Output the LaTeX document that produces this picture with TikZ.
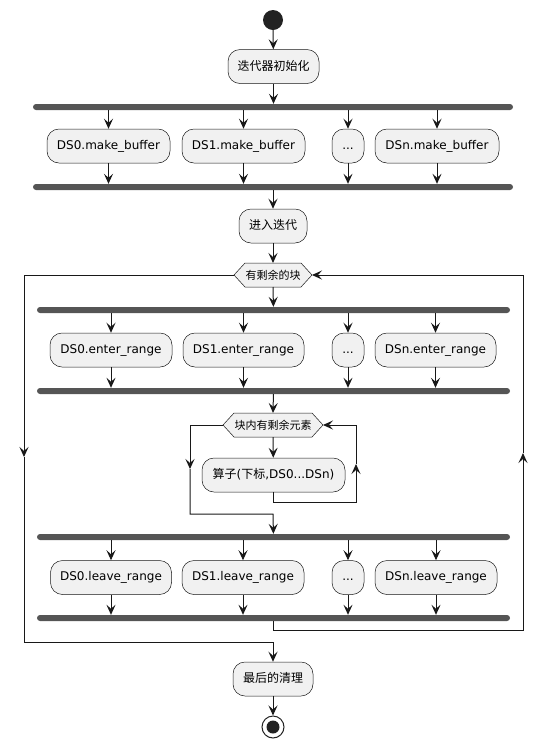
\documentclass[tikz,border=0pt]{standalone}
\usepackage{fontspec}
\setmainfont{DejaVu Sans}
\newfontfamily\cjk{Noto Sans CJK SC}
\usetikzlibrary{arrows.meta}
\definecolor{boxfill}{HTML}{F1F1F1}
\definecolor{edgec}{HTML}{181818}
\definecolor{barc}{HTML}{555555}
\definecolor{dotc}{HTML}{222222}
\tikzset{
  act/.style={draw=edgec, line width=0.5pt, fill=boxfill, rounded corners=12pt,
    minimum height=34pt, inner xsep=4pt, inner ysep=0pt,
    font=\fontsize{12}{14}\selectfont, text=black,
    execute at begin node={\vphantom{Dg}}},
  hexline/.style={draw=edgec, line width=0.5pt, fill=boxfill},
  hextext/.style={inner sep=0pt, font=\fontsize{11}{13}\selectfont, text=black},
  forkbar/.style={fill=barc, draw=none, rounded corners=3pt, minimum height=6pt,
    inner sep=0pt, minimum width=#1},
  conn/.style={draw=edgec, line width=1pt},
  arr/.style={conn, -{Stealth[length=10pt,width=9pt,inset=4pt]}},
}
\begin{document}
\begin{tikzpicture}[x=1pt,y=-1pt]
\path[use as bounding box] (0,0) rectangle (548,748);

% start
\node[circle, fill=dotc, minimum size=20pt, inner sep=0pt] (start) at (273,20) {};
\node[act, minimum width=91pt] (init) at (273.5,66.5) {\cjk 迭代器初始化};

% fork 1
\node[forkbar=480pt] (b1) at (273,107) {};
\node[act, minimum width=123pt] (m0) at (108.5,146) {DS0.make\_buffer};
\node[act, minimum width=123pt] (m1) at (243.5,146) {DS1.make\_buffer};
\node[act, minimum width=32pt]  (m2) at (348,146) {...};
\node[act, minimum width=124pt] (m3) at (437,146) {DSn.make\_buffer};
\node[forkbar=480pt] (b2) at (273,187) {};

\node[act, minimum width=68pt] (enter) at (273,226) {\cjk 进入迭代};

% outer hexagon
\path[hexline] (234,275) coordinate (ohw) -- (245,263) -- (301,263) -- (312,275) coordinate (ohe)
  -- (301,287) -- (245,287) -- cycle;
\coordinate (ohn) at (273,263);
\coordinate (ohs) at (273,287);
\node[hextext] (oh) at (273,275) {\cjk 有剩余的块};

% fork 3
\node[forkbar=473pt] (b3) at (273.5,310) {};
\node[act, minimum width=122pt] (e0) at (111,350) {DS0.enter\_range};
\node[act, minimum width=121pt] (e1) at (243.5,350) {DS1.enter\_range};
\node[act, minimum width=32pt]  (e2) at (348,350) {...};
\node[act, minimum width=121pt] (e3) at (435.5,350) {DSn.enter\_range};
\node[forkbar=473pt] (b4) at (273.5,391) {};

% inner hexagon
\path[hexline] (223,425) coordinate (ihw) -- (234,413) -- (312,413) -- (323,425) coordinate (ihe)
  -- (312,437) -- (234,437) -- cycle;
\coordinate (ihn) at (273,413);
\coordinate (ihs) at (273,437);
\node[hextext] (ih) at (273,425) {\cjk 块内有剩余元素};

\node[act, minimum width=143pt] (op) at (273.5,475) {{\cjk 算子}({\cjk 下标},DS0...DSn)};

% fork 5
\node[forkbar=473pt] (b5) at (273.5,537) {};
\node[act, minimum width=121pt] (l0) at (111,577.5) {DS0.leave\_range};
\node[act, minimum width=122pt] (l1) at (243,577.5) {DS1.leave\_range};
\node[act, minimum width=32pt]  (l2) at (348,577.5) {...};
\node[act, minimum width=122pt] (l3) at (436,577.5) {DSn.leave\_range};
\node[forkbar=473pt] (b6) at (273.5,618) {};

\node[act, minimum width=80pt] (final) at (273,679) {\cjk 最后的清理};

% end
\node[circle, draw=dotc, line width=1pt, fill=white, minimum size=22pt, inner sep=0pt] (end) at (273,727) {};
\fill[dotc] (end.center) circle (6.5pt);

% coordinates for loops
\coordinate (ilr1) at (356,502);
\coordinate (ilrm) at (356,464);
\coordinate (illm) at (190,469);
\coordinate (ilb)  at (273,514);
\coordinate (orb)  at (523,630);
\coordinate (orm)  at (523,453);
\coordinate (olm)  at (24,457);
\coordinate (olb)  at (273,642);

% connectors
\draw[arr] (start) -- (init);
\draw[arr] (init) -- (init |- b1.north);
\foreach \n in {m0,m1,m2,m3}{
  \draw[arr] (\n |- b1.south) -- (\n);
  \draw[arr] (\n) -- (\n |- b2.north);
}
\draw[arr] (b2) -- (enter);
\draw[arr] (enter) -- (ohn);
\draw[arr] (ohs) -- (b3);
\foreach \n in {e0,e1,e2,e3}{
  \draw[arr] (\n |- b3.south) -- (\n);
  \draw[arr] (\n) -- (\n |- b4.north);
}
\draw[arr] (b4) -- (ihn);
\draw[arr] (ihs) -- (op);
% inner loop back
\draw[arr] (op.south) |- (ilr1) -- (ilrm);
\draw[arr] (ilrm) |- (ihe);
% inner loop exit
\draw[arr] (ihw) -| (illm);
\draw[arr] (illm) |- (ilb) -- (b5);
\foreach \n in {l0,l1,l2,l3}{
  \draw[arr] (\n |- b5.south) -- (\n);
  \draw[arr] (\n) -- (\n |- b6.north);
}
% outer loop back
\draw[arr] (b6) |- (orb) -- (orm);
\draw[arr] (orm) |- (ohe);
% outer loop exit
\draw[arr] (ohw) -| (olm);
\draw[arr] (olm) |- (olb) -- (final);
\draw[arr] (final) -- (end);
\end{tikzpicture}
\end{document}
